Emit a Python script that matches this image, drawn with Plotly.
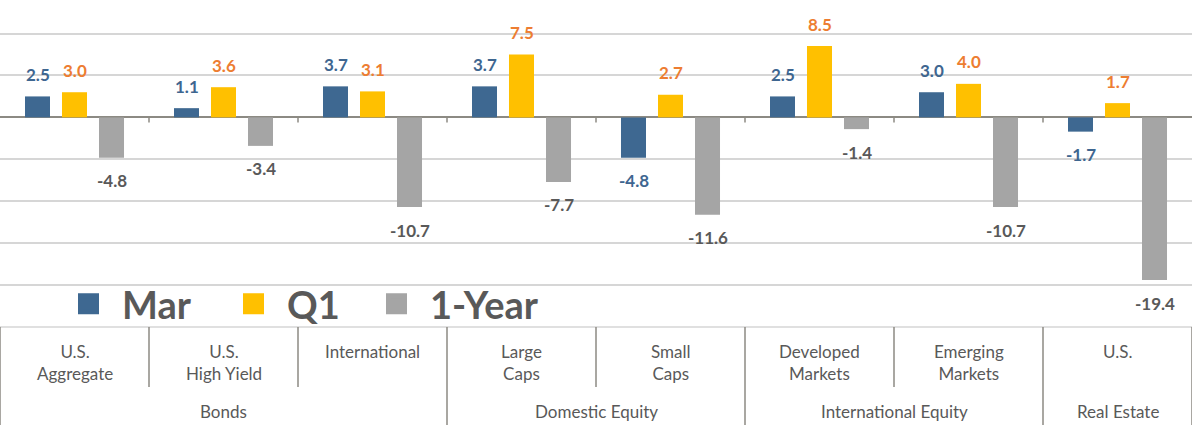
import plotly.graph_objects as go

# ---- data ----
sub_labels = ["U.S.<br>Aggregate", "U.S.<br>High Yield", "International",
              "Large<br>Caps", "Small<br>Caps", "Developed<br>Markets",
              "Emerging<br>Markets", "U.S."]
group_labels = ["Bonds", "Domestic Equity", "International Equity", "Real Estate"]
group_members = [[0, 1, 2], [3, 4], [5, 6], [7]]
series_names = ["Mar", "Q1", "1-Year"]
mar_vals = [2.5, 1.1, 3.7, 3.7, -4.8, 2.5, 3.0, -1.7]
q1_vals = [3.0, 3.6, 3.1, 7.5, 2.7, 8.5, 4.0, 1.7]
year_vals = [-4.8, -3.4, -10.7, -7.7, -11.6, -1.4, -10.7, -19.4]

# ---- style ----
bar_colors = ["#3E6891", "#FFC000", "#A5A5A5"]
label_colors = ["#3E6690", "#ED7D31", "#595959"]
TXT = "#595959"
AXIS = "#8C8A83"
GRID = "#D6D6D6"
FONT = "Lato"
BARGAP = 0.255
GROUPGAP = 0.324
W, H = 1192, 425

x = list(range(len(sub_labels)))
series = [mar_vals, q1_vals, year_vals]
legend_ids = ["legend", "legend2", "legend3"]
legend_left_px = [55, 220, 363]

fig = go.Figure()
for name, vals, col in zip(series_names, series, bar_colors):
    fig.add_trace(go.Bar(x=x, y=vals, name=name, marker_color=col,
                         marker_line_width=0, showlegend=False))
# legend entries (bigger square symbols), one legend per series
for name, col, lid in zip(series_names, bar_colors, legend_ids):
    fig.add_trace(go.Scatter(x=[None], y=[None], mode="markers", name=name,
                             legend=lid,
                             marker=dict(symbol="square", size=16, color=col,
                                         line=dict(width=5, color=col))))

annotations = []
slot = (1 - BARGAP) / 3
for k, (vals, lc) in enumerate(zip(series, label_colors)):
    for i, v in enumerate(vals):
        annotations.append(dict(
            x=i + (k - 1) * slot, y=v, xref="x", yref="y",
            text=f"{v:.1f}", showarrow=False,
            yanchor="middle", yshift=22 if v >= 0 else -23,
            font=dict(family=FONT, size=17, color=lc, weight="bold")))

for i, lab in enumerate(sub_labels):
    annotations.append(dict(x=i, y=-0.036, xref="x", yref="paper", text=lab,
                            showarrow=False, yanchor="top",
                            font=dict(family=FONT, size=17, color=TXT)))
for lab, mem in zip(group_labels, group_members):
    annotations.append(dict(x=sum(mem) / len(mem), y=-0.257, xref="x", yref="paper",
                            text=lab, showarrow=False, yanchor="middle",
                            font=dict(family=FONT, size=17, color=TXT)))

shapes = [dict(type="line", xref="paper", yref="paper", x0=0, x1=1, y0=0, y1=0,
               line=dict(color=GRID, width=1.5))]
n = len(sub_labels)
group_edges = [-0.5] + [m[-1] + 0.5 for m in group_members]
for b in range(n - 1):
    xb = b + 0.5
    shapes.append(dict(type="line", xref="x", yref="y", x0=xb, x1=xb, y0=0, y1=-0.6,
                       line=dict(color=AXIS, width=1.5)))
for b in range(n + 1):
    xb = b - 0.5
    full = xb in group_edges
    shapes.append(dict(type="line", xref="x", yref="paper", x0=xb, x1=xb, y0=0,
                       y1=-0.30 if full else -0.1835,
                       line=dict(color=AXIS, width=1.5)))

legend_common = dict(orientation="h", y=0.07, xanchor="left", yanchor="middle",
                     bgcolor="rgba(0,0,0,0)", itemsizing="trace", itemwidth=57,
                     font=dict(family=FONT, size=38, color=TXT, weight="bold"))
legend_layout = {lid: dict(legend_common, x=px / W)
                 for lid, px in zip(legend_ids, legend_left_px)}

fig.update_layout(
    width=W, height=H,
    margin=dict(l=0, r=0, t=0, b=98),
    paper_bgcolor="white", plot_bgcolor="white",
    barmode="group", bargap=BARGAP, bargroupgap=GROUPGAP,
    font=dict(family=FONT, color=TXT),
    hovermode=False,
    xaxis=dict(range=[-0.5, n - 0.5], showticklabels=False, showgrid=False,
               zeroline=False, ticks=""),
    yaxis=dict(range=[-25, 14], dtick=5, showticklabels=False, showgrid=True,
               gridcolor=GRID, gridwidth=1.5, zeroline=True,
               zerolinecolor=AXIS, zerolinewidth=2, ticks=""),
    annotations=annotations, shapes=shapes,
    **legend_layout,
)

fig.write_html("out.html", config={"displayModeBar": False},
               post_script="document.body.style.margin='0';document.body.style.overflow='hidden';")
